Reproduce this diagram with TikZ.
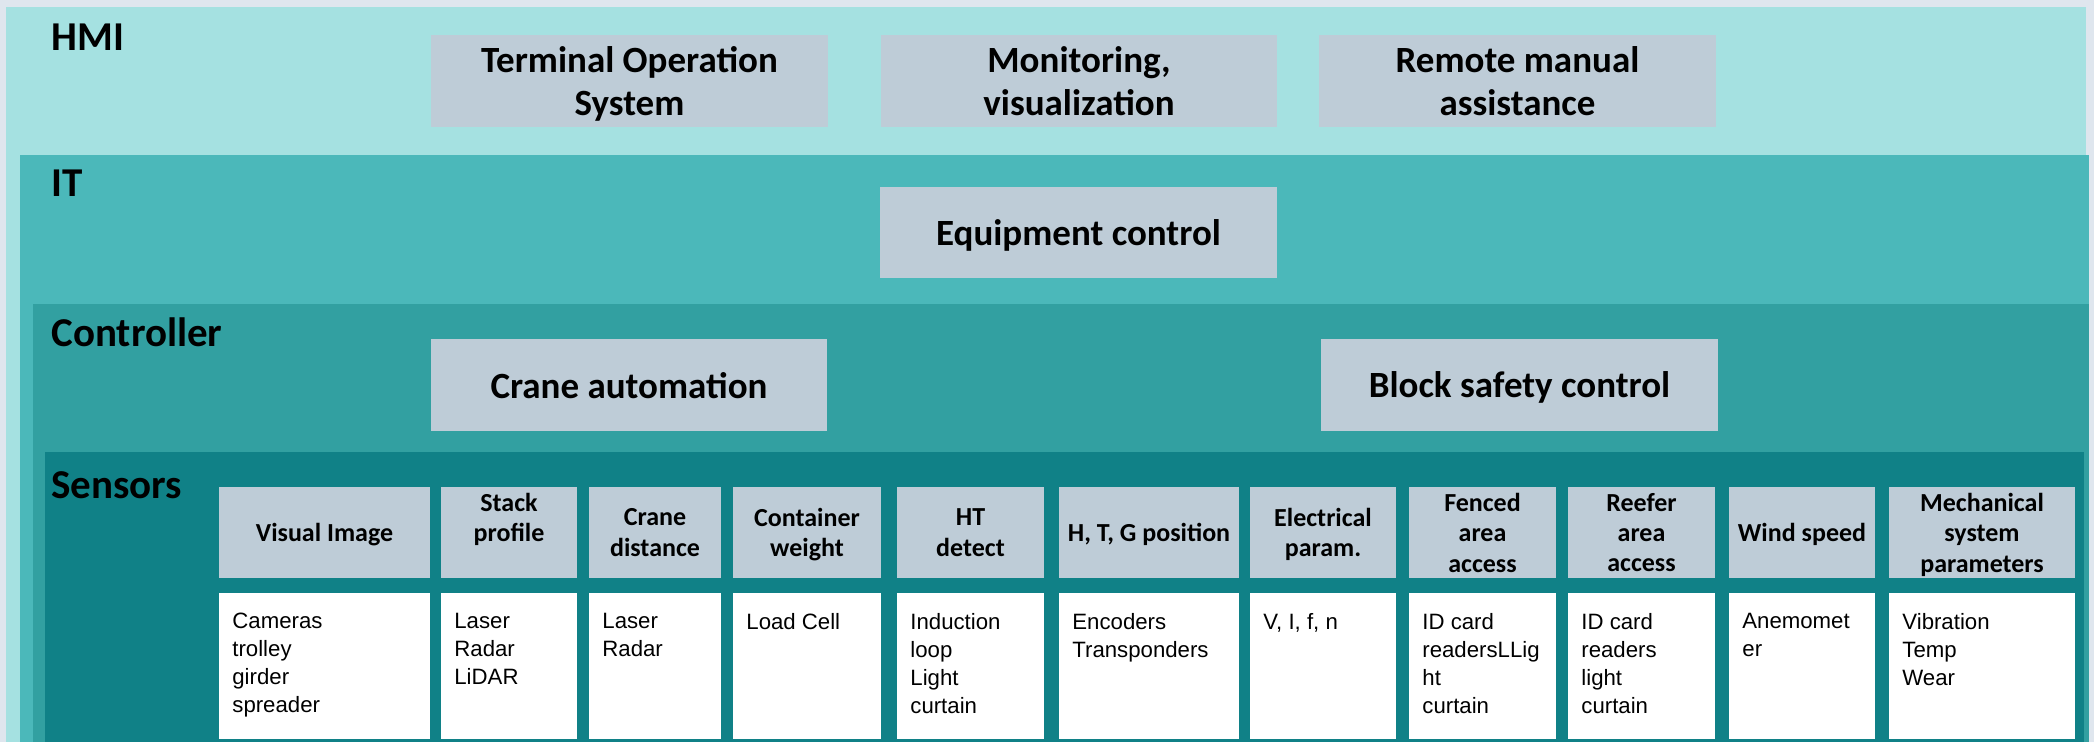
\documentclass[tikz,border=0pt]{standalone}
\usepackage{fontspec}
\setmainfont{Carlito}
\newfontfamily\arialf{Liberation Sans}
\definecolor{bgc}{HTML}{DFE6EE}
\definecolor{hmic}{HTML}{A5E1E1}
\definecolor{itc}{HTML}{4BB8BA}
\definecolor{ctlc}{HTML}{32A0A1}
\definecolor{senc}{HTML}{108187}
\definecolor{boxc}{HTML}{BECCD7}
\tikzset{
  layerbox/.style={inner sep=0pt, outer sep=0pt},
  greybox/.style={fill=boxc, inner sep=0pt, outer sep=0pt, align=center, text depth=0pt, font=\bfseries\fontsize{18.5}{21.5}\selectfont},
  headbox/.style={fill=boxc, inner sep=0pt, outer sep=0pt, align=center, text depth=0pt, font=\bfseries\fontsize{13}{15.2}\selectfont},
  whitebox/.style={fill=white, inner sep=0pt, outer sep=0pt},
  celltext/.style={anchor=north west, inner sep=0pt, align=left, font=\arialf\fontsize{11.1}{14}\selectfont},
  laytitle/.style={anchor=base west, inner sep=0pt, font=\bfseries\fontsize{20.5}{24}\selectfont},
}
\newcommand\mkbox[7]{%
  \pgfmathsetmacro\mkbw{(#5-#3)/2}%
  \pgfmathsetmacro\mkbh{(#6-#4)/2}%
  \node[#2, minimum width=\mkbw pt, minimum height=\mkbh pt] (#1) at ({(#3+#5)/2},{(#4+#6)/2}) {#7};}
\begin{document}
\begin{tikzpicture}[x=0.5pt,y=-0.5pt]
\useasboundingbox (0,0) rectangle (2094,742);
\fill[bgc] (0,0) rectangle (2094,742);
% layers
\mkbox{hmi}{layerbox, fill=hmic}{6}{7}{2086}{742}{}
\mkbox{it}{layerbox, fill=itc}{20}{155}{2089}{742}{}
\mkbox{ctl}{layerbox, fill=ctlc}{33}{304}{2089}{742}{}
\mkbox{sen}{layerbox, fill=senc}{45}{452}{2084}{742}{}
\node[laytitle] (hmit) at (51,51) {HMI};
\node[laytitle] (itt) at (51,197) {IT};
\node[laytitle] (ctlt) at (51,347) {Controller};
\node[laytitle] (sent) at (51,499) {Sensors};
% grey boxes
\mkbox{tos}{greybox}{431}{35}{828}{127}{Terminal Operation\\System}
\mkbox{mon}{greybox}{881}{35}{1277}{127}{Monitoring,\\visualization}
\mkbox{rma}{greybox}{1319}{35}{1716}{127}{Remote manual\\assistance}
\mkbox{eqc}{greybox}{880}{187}{1277}{278}{Equipment control}
\mkbox{cra}{greybox}{431}{339}{827}{431}{Crane automation}
\mkbox{bsc}{greybox}{1321}{339}{1718}{431}{Block safety control}
% sensor columns
\foreach \i/\xa/\xb/\hd/\bd in {
  1/219/430/{Visual Image}/{Cameras\\trolley\\girder\\spreader},
  2/441/577/{Stack\\profile\\\mbox{}}/{Laser\\Radar\\LiDAR},
  3/589/721/{Crane\\distance}/{Laser\\Radar},
  4/733/881/{Container\\weight}/{Load Cell},
  5/897/1044/{HT\\detect}/{Induction\\loop\\Light\\curtain},
  6/1059/1239/{H, T, G position}/{Encoders\\Transponders},
  7/1250/1396/{Electrical\\param.}/{V, I, f, n},
  8/1409/1556/{Fenced\\area\\access}/{ID card\\readersLLig\\ht\\curtain},
  9/1568/1715/{Reefer\\area\\access}/{ID card\\readers\\light\\curtain},
  10/1729/1875/{Wind speed}/{Anemomet\\er},
  11/1889/2075/{Mechanical\\system\\parameters}/{Vibration\\Temp\\Wear}}{
  \mkbox{h\i}{headbox}{\xa}{487}{\xb}{578}{\hd}
  \mkbox{w\i}{whitebox}{\xa}{593}{\xb}{739}{}
  \node[celltext] (t\i) at ({\xa+13},613) {\bd};
}
\end{tikzpicture}
\end{document}
